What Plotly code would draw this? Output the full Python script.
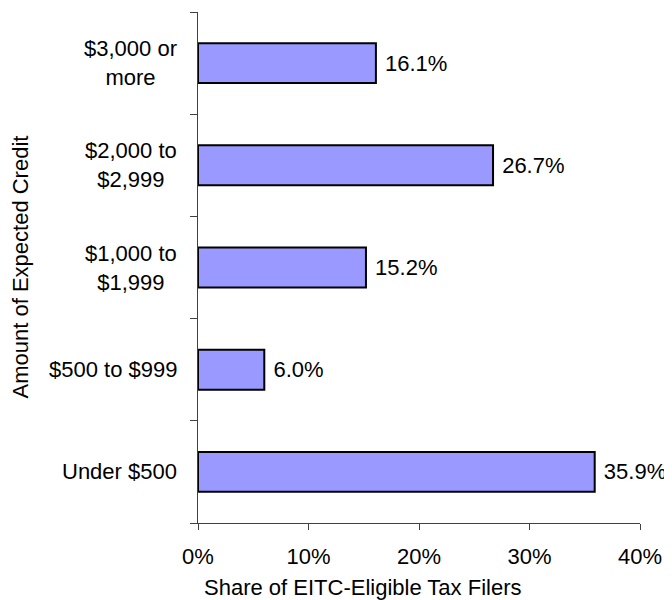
import plotly.graph_objects as go

categories = ["Under $500", "$500 to $999", "$1,000 to<br>$1,999", "$2,000 to<br>$2,999", "$3,000 or<br>more"]
shares = [35.9, 6.0, 15.2, 26.7, 16.1]
x_ticks = [0, 10, 20, 30, 40]
x_tick_labels = ["0%", "10%", "20%", "30%", "40%"]
x_title = "Share of EITC-Eligible Tax Filers"
y_title = "Amount of Expected Credit"

FONT = "Liberation Sans, Arial, sans-serif"
FS = 22

fig = go.Figure()
fig.add_trace(go.Bar(
    x=shares, y=categories, orientation="h",
    marker=dict(color="#9999FF", line=dict(color="black", width=2)),
    text=[f" {v:.1f}%" for v in shares],
    textposition="outside", cliponaxis=False,
    textfont=dict(family=FONT, size=FS, color="black"),
    hoverinfo="skip",
))

annotations = []
for c in categories:
    annotations.append(dict(
        x=0, xref="paper", y=c, yref="y", xanchor="right", yanchor="middle",
        xshift=-19, text=c, showarrow=False, align="center",
        font=dict(family=FONT, size=FS, color="black"),
    ))
annotations.append(dict(
    x=0.373, xref="paper", y=0, yref="paper", xanchor="center", yanchor="middle",
    yshift=-64, text=x_title, showarrow=False,
    font=dict(family=FONT, size=FS, color="black"),
))
annotations.append(dict(
    x=0, xref="paper", y=0.5, yref="paper", xanchor="center", yanchor="middle",
    xshift=-178, text=y_title, textangle=-90, showarrow=False,
    font=dict(family=FONT, size=FS, color="black"),
))

fig.update_layout(
    width=664, height=592,
    margin=dict(l=190, r=32, t=4, b=77),
    paper_bgcolor="white", plot_bgcolor="white",
    bargap=0.61, showlegend=False,
    font=dict(family=FONT, size=FS, color="black"),
    annotations=annotations,
)
fig.update_xaxes(
    range=[0, 40], tickvals=x_ticks, ticktext=x_tick_labels,
    showgrid=False, zeroline=False, showline=True, linecolor="#404040", linewidth=1,
    ticks="outside", ticklen=6, tickcolor="#404040", ticklabelstandoff=8,
    tickfont=dict(family=FONT, size=FS, color="black"),
)
fig.update_yaxes(
    categoryorder="array", categoryarray=categories,
    showgrid=False, zeroline=False, showline=True, linecolor="#404040", linewidth=1,
    ticks="outside", ticklen=7, tickcolor="#404040", tickson="boundaries",
    showticklabels=False,
)

fig.write_html("out.html")
